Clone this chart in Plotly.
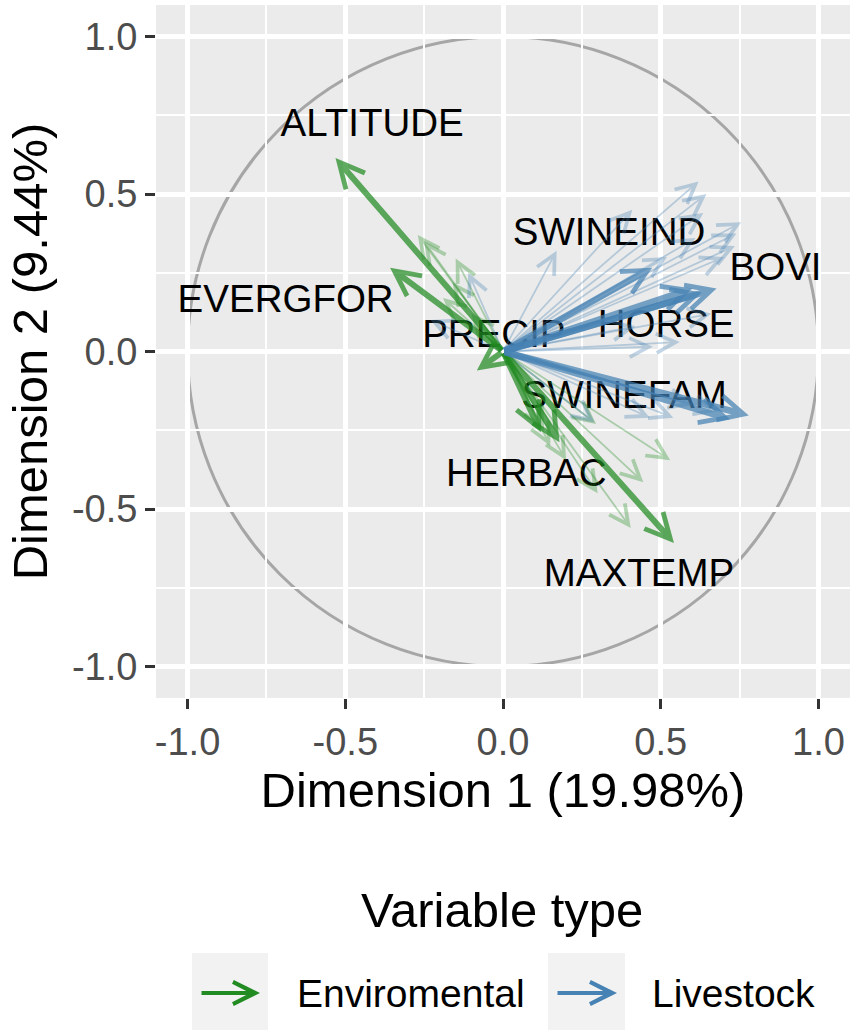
import plotly.graph_objects as go

# ---------------- data ----------------
GREEN = "34,139,34"
BLUE = "70,130,180"

# main (labelled) environmental arrows: tips
env_main_x = [-0.531, -0.358, -0.083, 0.179, 0.12, 0.542]
env_main_y = [0.614, 0.266, -0.060, -0.288, -0.256, -0.608]

# main livestock arrows: tips
live_main_x = [0.473, 0.677, 0.63, 0.60, 0.779, 0.72]
live_main_y = [0.266, 0.200, 0.187, 0.20, -0.203, -0.215]

# faded environmental arrows
env_faint_x = [-0.27, -0.15, -0.19, -0.16, -0.25, -0.10, 0.53, 0.445, 0.405, 0.295, 0.20, 0.15, 0.13, 0.30]
env_faint_y = [0.37, 0.295, 0.17, 0.22, 0.35, 0.12, -0.345, -0.415, -0.56, -0.23, -0.345, -0.30, -0.25, -0.45]

# faded livestock arrows
live_faint_x = [0.62, 0.645, 0.635, 0.755, 0.74, 0.735, 0.41, 0.61, 0.17, 0.56, 0.475,
                0.54, 0.465, 0.29, -0.11, -0.23, 0.70, 0.52, 0.66, 0.42, 0.68, 0.60]
live_faint_y = [0.54, 0.50, 0.44, 0.41, 0.375, 0.335, 0.45, 0.36, 0.32, 0.03, 0.015,
                -0.21, -0.21, -0.225, 0.25, 0.10, 0.30, 0.30, 0.12, 0.08, -0.19, -0.17]

# variable labels
label_text = ["ALTITUDE", "EVERGFOR", "PRECIP", "SWINEIND", "BOVI", "HORSE", "SWINEFAM", "HERBAC", "MAXTEMP"]
label_x = [-0.415, -0.689, -0.029, 0.336, 0.864, 0.517, 0.384, 0.074, 0.431]
label_y = [0.715, 0.155, 0.044, 0.37, 0.256, 0.076, -0.149, -0.396, -0.715]

x_ticks = [-1.0, -0.5, 0.0, 0.5, 1.0]
y_ticks = [-1.0, -0.5, 0.0, 0.5, 1.0]
tick_labels = ["-1.0", "-0.5", "0.0", "0.5", "1.0"]
legend_names = ["Enviromental", "Livestock"]

FONT = "Liberation Sans, Arial"

# ---------------- figure ----------------
fig = go.Figure()

fig.add_trace(go.Scatter(
    x=label_x, y=label_y, text=label_text, mode="text",
    textposition="middle center",
    textfont=dict(family=FONT, size=38.5, color="black"),
    showlegend=False, hoverinfo="skip"))

annotations = []

def add_arrows(xs, ys, rgb, alpha, width, size):
    for xv, yv in zip(xs, ys):
        annotations.append(dict(
            x=xv, y=yv, ax=0, ay=0, xref="x", yref="y", axref="x", ayref="y",
            text="", showarrow=True, arrowhead=5, arrowsize=size, arrowwidth=width,
            arrowcolor=f"rgba({rgb},{alpha})"))

add_arrows(env_faint_x, env_faint_y, GREEN, 0.33, 1.8, 2.1)
add_arrows(live_faint_x, live_faint_y, BLUE, 0.33, 1.8, 2.1)
add_arrows(env_main_x, env_main_y, GREEN, 0.72, 6.0, 0.82)
add_arrows(live_main_x, live_main_y, BLUE, 0.72, 6.5, 0.75)

# legend drawn manually below the plot
# paper coords: plot area spans px x 156-850, y 5-698
def px_x(p):
    return (p - 156) / 694.0

def px_y(p):
    return (698 - p) / 693.0

annotations.append(dict(x=px_x(502), y=px_y(910), xref="paper", yref="paper",
                        text="Variable type", showarrow=False,
                        font=dict(family=FONT, size=49, color="black"),
                        xanchor="center", yanchor="middle"))

shapes = [dict(type="circle", xref="x", yref="y", x0=-1, y0=-1, x1=1, y1=1,
               line=dict(color="#A6A6A6", width=3), layer="below")]

key_specs = [(192, 268, GREEN, 295), (548, 625, BLUE, 650)]
for (k0, k1, rgb, lab_px), name in zip(key_specs, legend_names):
    shapes.append(dict(type="rect", xref="paper", yref="paper",
                       x0=px_x(k0), x1=px_x(k1), y0=px_y(1030), y1=px_y(953),
                       fillcolor="#F2F2F2", line=dict(width=0)))
    annotations.append(dict(x=px_x(k1 - 8), y=px_y(993), ax=-(k1 - k0 - 16), ay=0,
                            xref="paper", yref="paper", axref="pixel", ayref="pixel",
                            text="", showarrow=True, arrowhead=5, arrowsize=1.15,
                            arrowwidth=3.8, arrowcolor=f"rgb({rgb})"))
    annotations.append(dict(x=px_x(lab_px), y=px_y(993), xref="paper", yref="paper",
                            text=name, showarrow=False, xanchor="left", yanchor="middle",
                            font=dict(family=FONT, size=39, color="black")))

axis_common = dict(
    range=[-1.1, 1.1], tickvals=x_ticks, ticktext=tick_labels,
    showgrid=True, gridcolor="white", gridwidth=4.5,
    zeroline=False, showline=False,
    ticks="outside", ticklen=10, tickwidth=3, tickcolor="#333333",
    tickfont=dict(family=FONT, size=38, color="#4D4D4D"),
    minor=dict(dtick=0.25, showgrid=True, gridcolor="white", gridwidth=2.3),
    fixedrange=True,
)

fig.update_layout(
    width=856, height=1034,
    margin=dict(l=156, r=6, t=5, b=336, autoexpand=False),
    paper_bgcolor="white", plot_bgcolor="#EBEBEB",
    showlegend=False,
    xaxis=dict(**axis_common,
               title=dict(text="Dimension 1 (19.98%)", standoff=6,
                          font=dict(family=FONT, size=49, color="black"))),
    yaxis=dict(**{**axis_common, "tickvals": y_ticks},
               title=dict(text="Dimension 2 (9.44%)", standoff=8,
                          font=dict(family=FONT, size=49, color="black"))),
    shapes=shapes,
    annotations=annotations,
)

fig.write_html("out.html", config={"displayModeBar": False},
               post_script="document.body.style.margin='0';document.body.style.padding='0';")
